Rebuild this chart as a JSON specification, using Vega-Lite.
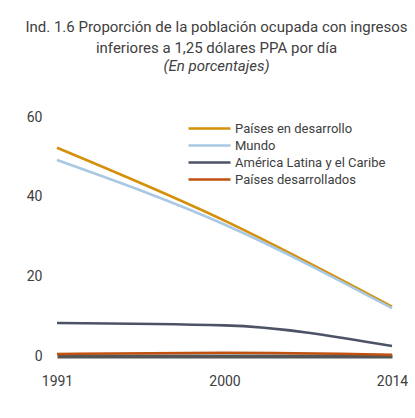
{
  "$schema": "https://vega.github.io/schema/vega-lite/v6.json",
  "width": 335,
  "height": 239,
  "autosize": {"type": "none"},
  "padding": {"left": 57, "top": 117, "right": 23, "bottom": 62},
  "background": "white",
  "config": {
    "view": {"stroke": null},
    "font": "Roboto, sans-serif"
  },
  "title": {
    "text": ["Ind. 1.6 Proporción de la población ocupada con ingresos", "inferiores a 1,25 dólares PPA  por día"],
    "subtitle": "(En porcentajes)",
    "anchor": "middle",
    "dx": -8,
    "offset": 36,
    "fontSize": 15,
    "fontWeight": "normal",
    "color": "#404040",
    "lineHeight": 21,
    "subtitleFontSize": 15,
    "subtitleFontStyle": "italic",
    "subtitleColor": "#404040",
    "subtitlePadding": 3,
    "font": "Roboto, sans-serif",
    "subtitleFont": "Roboto, sans-serif"
  },
  "data": {
    "values": [
      {"year": "1991", "serie": "Países en desarrollo", "valor": 52.3},
      {"year": "2000", "serie": "Países en desarrollo", "valor": 34.0},
      {"year": "2014", "serie": "Países en desarrollo", "valor": 12.4},
      {"year": "1991", "serie": "Mundo", "valor": 49.2},
      {"year": "2000", "serie": "Mundo", "valor": 33.0},
      {"year": "2014", "serie": "Mundo", "valor": 12.0},
      {"year": "1991", "serie": "América Latina y el Caribe", "valor": 8.3},
      {"year": "2000", "serie": "América Latina y el Caribe", "valor": 7.7},
      {"year": "2014", "serie": "América Latina y el Caribe", "valor": 2.5},
      {"year": "1991", "serie": "Países desarrollados", "valor": 0.5},
      {"year": "2000", "serie": "Países desarrollados", "valor": 0.8},
      {"year": "2014", "serie": "Países desarrollados", "valor": 0.3}
    ]
  },
  "mark": {"type": "line", "interpolate": "monotone", "strokeWidth": 2.6},
  "encoding": {
    "x": {
      "field": "year",
      "type": "ordinal",
      "sort": null,
      "scale": {"type": "point", "padding": 0},
      "axis": {
        "title": null,
        "labelAngle": 0,
        "ticks": false,
        "domainColor": "#555555",
        "domainWidth": 4,
        "labelPadding": 18,
        "labelFontSize": 14,
        "labelColor": "#404040",
        "labelFont": "Roboto, sans-serif"
      }
    },
    "y": {
      "field": "valor",
      "type": "quantitative",
      "scale": {"domain": [0, 60]},
      "axis": {
        "title": null,
        "values": [0, 20, 40, 60],
        "grid": false,
        "domain": false,
        "ticks": false,
        "labelPadding": 15,
        "labelFontSize": 14,
        "labelColor": "#404040",
        "labelFont": "Roboto, sans-serif"
      }
    },
    "color": {
      "field": "serie",
      "type": "nominal",
      "sort": ["Países en desarrollo", "Mundo", "América Latina y el Caribe", "Países desarrollados"],
      "scale": {
        "domain": ["Países en desarrollo", "Mundo", "América Latina y el Caribe", "Países desarrollados"],
        "range": ["#D4900A", "#A9C8E4", "#4D5366", "#C0510F"]
      },
      "legend": {
        "title": null,
        "orient": "none",
        "legendX": 158,
        "legendY": 3,
        "symbolType": "M-5,0H1",
        "symbolSize": 196,
        "symbolStrokeWidth": 2.6,
        "labelFontSize": 13,
        "labelLimit": 300,
        "labelColor": "#404040",
        "labelOffset": 3,
        "rowPadding": 1,
        "labelFont": "Roboto, sans-serif"
      }
    }
  }
}
